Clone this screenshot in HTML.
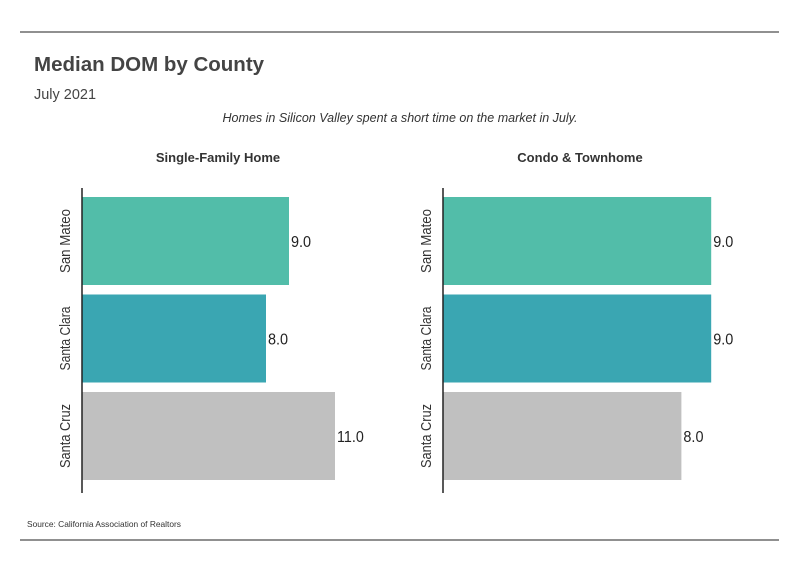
<!DOCTYPE html>
<html><head><meta charset="utf-8"><style>
html,body{margin:0;padding:0;background:#fff;}
svg{display:block;font-family:"Liberation Sans",sans-serif;}
</style></head><body>
<svg id="c" width="799" height="575" xmlns="http://www.w3.org/2000/svg">
<line x1="20" y1="32" x2="779" y2="32" stroke="#222" stroke-width="1"/>
<line x1="20" y1="540" x2="779" y2="540" stroke="#222" stroke-width="1"/>
<text x="34" y="71" font-weight="bold" font-size="20.5" fill="#444">Median DOM by County</text>
<text x="34" y="99" font-size="15" fill="#444" textLength="62" lengthAdjust="spacingAndGlyphs">July 2021</text>
<text x="400" y="122" font-size="13" font-style="italic" fill="#333" text-anchor="middle" textLength="355" lengthAdjust="spacingAndGlyphs">Homes in Silicon Valley spent a short time on the market in July.</text>
<text x="27" y="527" font-size="8.5" fill="#333" textLength="154" lengthAdjust="spacingAndGlyphs">Source:  California Association of Realtors</text>
<g id="panels"></g>
</svg>
<script>
const categories = ["San Mateo", "Santa Clara", "Santa Cruz"];
const singleFamilyValues = [9.0, 8.0, 11.0];
const condoValues = [9.0, 9.0, 8.0];
const panelTitles = ["Single-Family Home", "Condo & Townhome"];
const colors = ["#52bda9", "#3aa6b2", "#c0c0c0"];

const NS = "http://www.w3.org/2000/svg";
const panelGroup = document.getElementById("panels");
function mk(tag, attrs, text) {
  const e = document.createElementNS(NS, tag);
  for (const k in attrs) e.setAttribute(k, attrs[k]);
  if (text !== undefined) e.textContent = text;
  panelGroup.appendChild(e);
  return e;
}
const panels = [
  {x0: 82, pxPerUnit: 23, values: singleFamilyValues, title: panelTitles[0], key: "single-family", tx: 218},
  {x0: 443, pxPerUnit: 29.8, values: condoValues, title: panelTitles[1], key: "condo", tx: 580}
];
const axisTop = 188, bandH = 97.5, barH = 88;
function yBand(i) { return axisTop + 9 + i * bandH; }
panels.forEach(p => {
  const xScale = v => p.x0 + v * p.pxPerUnit;
  const t = mk("text", {x: p.tx, y: 162, "font-weight": "bold", "font-size": "13", fill: "#333", "text-anchor": "middle"}, p.title);
  
  
  p.values.forEach((v, i) => {
    const y = yBand(i);
    const r = mk("rect", {x: p.x0, y: y, width: xScale(v) - p.x0, height: barH, fill: colors[i]});
    
    
    const lb = mk("text", {x: xScale(v) + 2, y: y + barH / 2 + 6, "font-size": "16", fill: "#222", textLength: String(v.toFixed(1)).length * 6.7, lengthAdjust: "spacingAndGlyphs"}, v.toFixed(1));
    
    
    const cy = y + barH / 2;
    const cl = mk("text", {x: p.x0 - 12, y: cy, "font-size": "15", fill: "#333", "text-anchor": "middle", textLength: "64", lengthAdjust: "spacingAndGlyphs", transform: "rotate(-90 " + (p.x0 - 12) + " " + cy + ")"}, categories[i]);
    
    
  });
  const ax = mk("line", {x1: p.x0, y1: axisTop, x2: p.x0, y2: 493, stroke: "#222", "stroke-width": 1.5});
  
  
});
</script>
</body></html>
